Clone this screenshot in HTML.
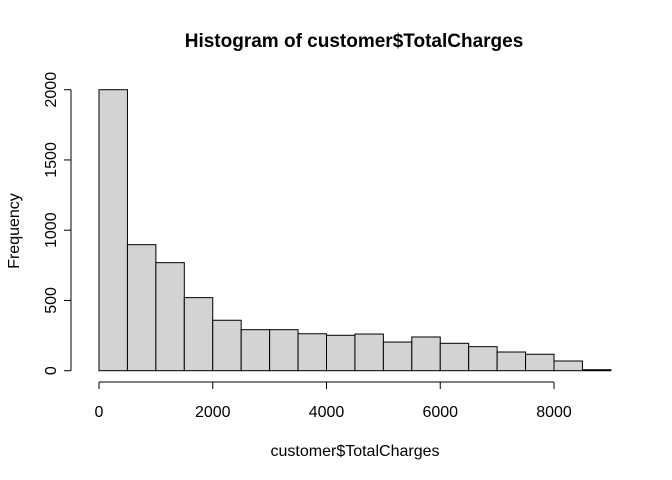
<!DOCTYPE html>
<html><head><meta charset="utf-8"><style>body{margin:0;background:#fff}svg{display:block;font-family:"Liberation Sans",sans-serif}</style></head>
<body>
<svg id="chart" width="672" height="480" viewBox="0 0 672 480">
<text x="354" y="47" text-anchor="middle" font-weight="bold" font-size="19">Histogram of customer$TotalCharges</text>
<text x="355" y="456" text-anchor="middle" font-size="16">customer$TotalCharges</text>
<text transform="translate(19,231) rotate(-90)" text-anchor="middle" font-size="16">Frequency</text>
<g id="bars"></g><g id="xaxis"></g><g id="yaxis"></g>
</svg>
<script>
const binStarts=[0,500,1000,1500,2000,2500,3000,3500,4000,4500,5000,5500,6000,6500,7000,7500,8000,8500];
const counts=[2000,897,769,520,359,292,292,263,252,261,204,240,195,171,133,117,69,7];
const binWidth=500;
const xTicks=[0,2000,4000,6000,8000];
const yTicks=[0,500,1000,1500,2000];
const NS="http://www.w3.org/2000/svg";
const xs=v=>99+v*(455/8000);
const ys=v=>370.7-v*0.1405;
const bars=document.getElementById('bars');
binStarts.forEach((b,i)=>{
 const r=document.createElementNS(NS,'rect');
 
 
 const x0=xs(b),x1=xs(b+binWidth),y=ys(counts[i]);
 r.setAttribute('x',x0);r.setAttribute('y',y);r.setAttribute('width',x1-x0);r.setAttribute('height',Math.max(ys(0)-y,0.5));
 r.setAttribute('fill','#d3d3d3');r.setAttribute('stroke','#000');r.setAttribute('stroke-width','1');
 bars.appendChild(r);
});
const xa=document.getElementById('xaxis');
let l=document.createElementNS(NS,'line');


l.setAttribute('x1',xs(xTicks[0]));l.setAttribute('x2',xs(xTicks[xTicks.length-1]));l.setAttribute('y1',382);l.setAttribute('y2',382);l.setAttribute('stroke','#000');
xa.appendChild(l);
xTicks.forEach(t=>{
 const tk=document.createElementNS(NS,'line');
 
 
 tk.setAttribute('x1',xs(t));tk.setAttribute('x2',xs(t));tk.setAttribute('y1',382);tk.setAttribute('y2',389);tk.setAttribute('stroke','#000');
 xa.appendChild(tk);
 const tx=document.createElementNS(NS,'text');
 
 
 tx.setAttribute('x',xs(t));tx.setAttribute('y',417);tx.setAttribute('text-anchor','middle');tx.setAttribute('font-size','16');
 tx.textContent=t;xa.appendChild(tx);
});
const ya=document.getElementById('yaxis');
l=document.createElementNS(NS,'line');


l.setAttribute('x1',71);l.setAttribute('x2',71);l.setAttribute('y1',ys(yTicks[0]));l.setAttribute('y2',ys(yTicks[yTicks.length-1]));l.setAttribute('stroke','#000');
ya.appendChild(l);
yTicks.forEach(t=>{
 const tk=document.createElementNS(NS,'line');
 
 
 tk.setAttribute('x1',64);tk.setAttribute('x2',71);tk.setAttribute('y1',ys(t));tk.setAttribute('y2',ys(t));tk.setAttribute('stroke','#000');
 ya.appendChild(tk);
 const tx=document.createElementNS(NS,'text');
 
 
 tx.setAttribute('transform','translate(56,'+ys(t)+') rotate(-90)');tx.setAttribute('text-anchor','middle');tx.setAttribute('font-size','16');
 tx.textContent=t;ya.appendChild(tx);
});
</script>
</body></html>
